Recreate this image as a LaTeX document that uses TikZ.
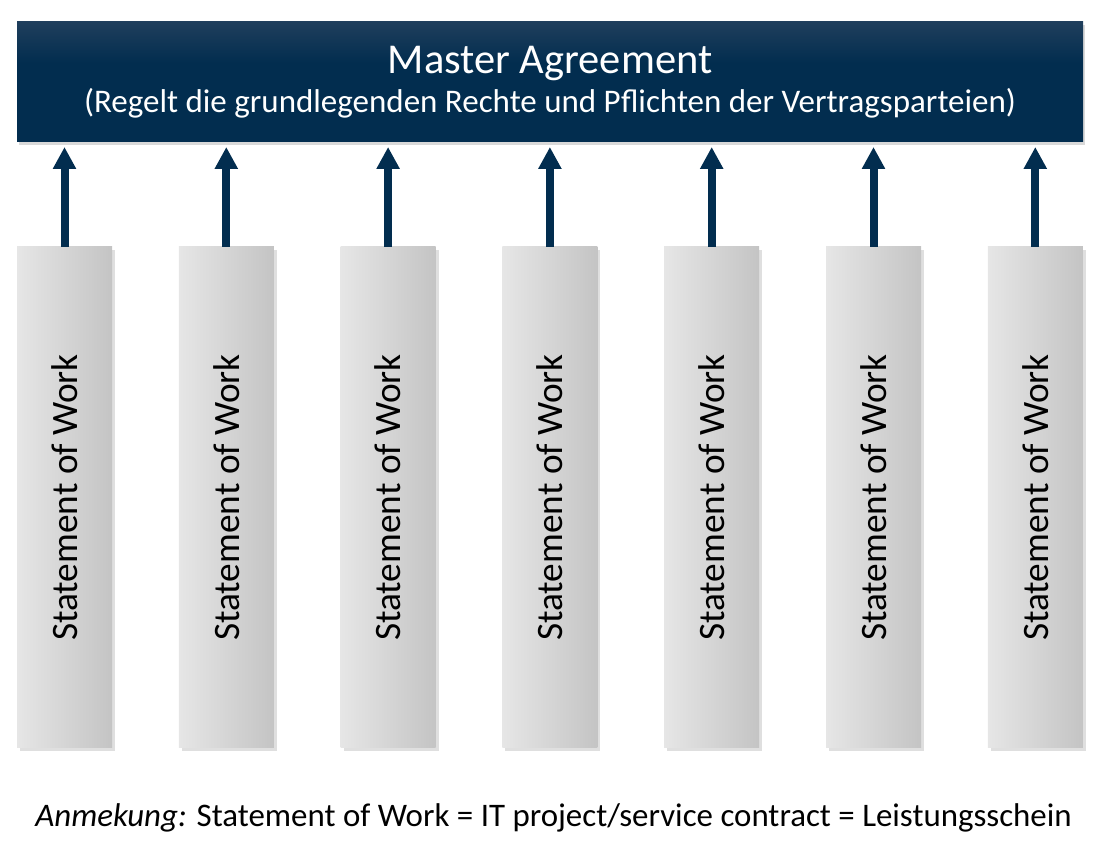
\documentclass[tikz,border=0pt]{standalone}
\usepackage{fontspec}
\setmainfont{Carlito}
\usepackage{xcolor}
\usetikzlibrary{arrows.meta,positioning,shadows}

\definecolor{navy}{RGB}{2,45,79}
\definecolor{navytop}{RGB}{74,88,112}
\definecolor{sowlight}{RGB}{230,230,230}
\definecolor{sowdark}{RGB}{196,196,196}
\pgfdeclareverticalshading{masterfade}{100bp}{color(0bp)=(navy); color(58bp)=(navy); color(100bp)=(navytop)}

\begin{document}
\begin{tikzpicture}[
    x=1pt, y=1pt,
    every node/.style={outer sep=0pt, inner sep=0pt},
    master/.style={shading=masterfade, text=white, minimum width=1066pt, minimum height=120pt,
        align=center, drop shadow={shadow xshift=2pt, shadow yshift=-3pt, opacity=0.3}},
    sow/.style={left color=sowlight, right color=sowdark, minimum width=95pt, minimum height=501pt,
        drop shadow={shadow xshift=3pt, shadow yshift=-3pt, opacity=0.25},
        font=\fontsize{37.3}{42}\selectfont},
    uparrow/.style={-{Triangle[length=22pt, width=22pt]}, line width=8pt, draw=navy, shorten >=5pt}
]

\useasboundingbox (0,0) rectangle (1103,854);

% Master Agreement
\node[master] (master) at (550,772)
    {{\fontsize{42.5}{46}\selectfont Master Agreement}\\[6pt]
     {\fontsize{33}{36}\selectfont (Regelt die grundlegenden Rechte und Pflichten der Vertragsparteien)}};

% Statements of Work
\node[sow] (sow1) at (64.5,356.5) {\rotatebox{90}{Statement of Work}};
\node[sow, right=66.8pt of sow1] (sow2) {\rotatebox{90}{Statement of Work}};
\node[sow, right=66.8pt of sow2] (sow3) {\rotatebox{90}{Statement of Work}};
\node[sow, right=66.8pt of sow3] (sow4) {\rotatebox{90}{Statement of Work}};
\node[sow, right=66.8pt of sow4] (sow5) {\rotatebox{90}{Statement of Work}};
\node[sow, right=66.8pt of sow5] (sow6) {\rotatebox{90}{Statement of Work}};
\node[sow, right=66.8pt of sow6] (sow7) {\rotatebox{90}{Statement of Work}};

% Note
\node[font=\fontsize{32.9}{36}\selectfont] (note) at (553.5,36)
    {\textit{Anmekung:} Statement of Work = IT project/service contract = Leistungsschein};

% Connections
\draw[uparrow] (sow1.north) -- (sow1.north |- master.south);
\draw[uparrow] (sow2.north) -- (sow2.north |- master.south);
\draw[uparrow] (sow3.north) -- (sow3.north |- master.south);
\draw[uparrow] (sow4.north) -- (sow4.north |- master.south);
\draw[uparrow] (sow5.north) -- (sow5.north |- master.south);
\draw[uparrow] (sow6.north) -- (sow6.north |- master.south);
\draw[uparrow] (sow7.north) -- (sow7.north |- master.south);

\end{tikzpicture}
\end{document}
